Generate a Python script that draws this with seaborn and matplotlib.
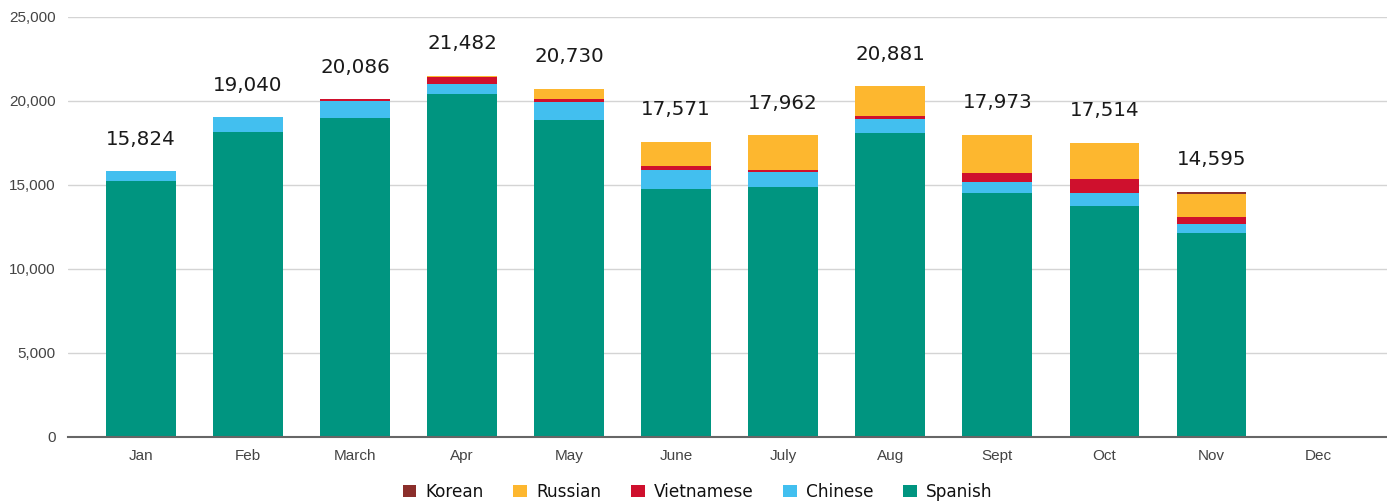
import pandas as pd
import matplotlib.pyplot as plt
import seaborn as sns
from matplotlib.patches import Patch
from matplotlib.ticker import FuncFormatter

# DATA
months = ["Jan", "Feb", "March", "Apr", "May", "June",
          "July", "Aug", "Sept", "Oct", "Nov", "Dec"]

spanish = [15200, 18173, 19000, 20417, 18869, 14782, 14900, 18077, 14542, 13768, 12125, 0]
chinese = [624, 867, 1000, 613, 1090, 1111, 894, 852, 617, 774, 554, 0]
vietnamese = [0, 0, 86, 400, 141, 238, 99, 158, 575, 795, 398, 0]
russian = [0, 0, 0, 52, 630, 1440, 2069, 1794, 2239, 2177, 1407, 0]
korean = [0, 0, 0, 0, 0, 0, 0, 0, 0, 0, 111, 0]

# bottom -> top stacking order
layers = ["Spanish", "Chinese", "Vietnamese", "Russian", "Korean"]
colors = {
    "Spanish": "#009580",
    "Chinese": "#42BFEF",
    "Vietnamese": "#CF102D",
    "Russian": "#FDB72F",
    "Korean": "#8B2E2B",
}

df = pd.DataFrame({
    "month": months,
    "Spanish": spanish,
    "Chinese": chinese,
    "Vietnamese": vietnamese,
    "Russian": russian,
    "Korean": korean,
})

# cumulative heights for overlay-stacking
cum = df[layers].cumsum(axis=1)
cum["month"] = df["month"]
totals = cum["Korean"]

sns.set_style("white")
plt.rcParams["font.family"] = ["DejaVu Sans"]

fig = plt.figure(figsize=(13.87, 5.04), dpi=100)
ax = fig.add_axes([0.049, 0.133, 0.951, 0.8337])

# draw tallest cumulative first so lower layers sit on top
for layer in reversed(layers):
    sns.barplot(data=cum, x="month", y=layer, order=months, color=colors[layer],
                saturation=1, width=0.65, linewidth=0, ax=ax)

# total labels
for i, t in enumerate(totals):
    if t > 0:
        ax.annotate(f"{t:,}", xy=(i, t), xytext=(0, 23), textcoords="offset points",
                    ha="center", va="center", fontsize=14.3, color="#1a1a1a")

ax.set_ylim(0, 25000)
ax.set_xlim(-0.68, 11.64)
ax.set_yticks(range(0, 25001, 5000))
ax.yaxis.set_major_formatter(FuncFormatter(lambda v, p: f"{int(v):,}"))
ax.set_xlabel("")
ax.set_ylabel("")

ax.grid(axis="y", color="#d4d4d4", linewidth=1)
ax.set_axisbelow(True)
for s in ["top", "right", "left"]:
    ax.spines[s].set_visible(False)
ax.spines["bottom"].set_color("#666666")
ax.spines["bottom"].set_linewidth(1.5)
ax.spines["bottom"].set_zorder(5)

ax.tick_params(axis="both", length=0, colors="#444444")
ax.tick_params(axis="y", pad=9)
ax.tick_params(axis="x", pad=9)
for lbl in ax.get_xticklabels() + ax.get_yticklabels():
    lbl.set_fontfamily("Liberation Sans")
    lbl.set_fontsize(11)

# legend
legend_order = ["Korean", "Russian", "Vietnamese", "Chinese", "Spanish"]
handles = [Patch(facecolor=colors[n], edgecolor="none") for n in legend_order]
fig.legend(handles, legend_order, loc="center", bbox_to_anchor=(0.503, 0.024),
           ncol=5, frameon=False, handlelength=0.8, handleheight=0.8,
           handletextpad=0.55, columnspacing=1.75, fontsize=12.2, labelcolor="#111111")

plt.savefig("out.png", dpi=100)
